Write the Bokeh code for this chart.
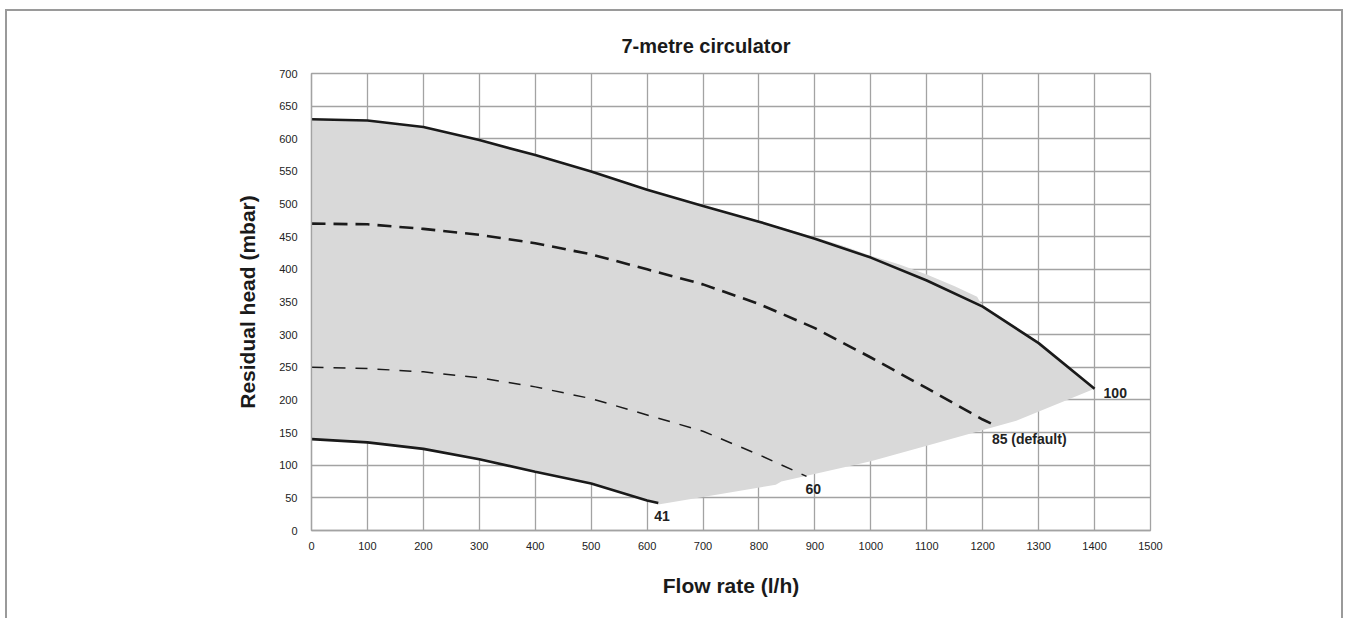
from bokeh.plotting import figure
from bokeh.models import Range1d, FixedTicker, Label, Title
from bokeh.embed import file_html
from bokeh.resources import INLINE

# ---- data ----
x_ticks = [0, 100, 200, 300, 400, 500, 600, 700, 800, 900, 1000, 1100, 1200, 1300, 1400, 1500]
y_ticks = [0, 50, 100, 150, 200, 250, 300, 350, 400, 450, 500, 550, 600, 650, 700]

flow_100 = [0, 100, 200, 300, 400, 500, 600, 700, 800, 900, 1000, 1100, 1200, 1300, 1400]
head_100 = [630, 628, 618, 598, 575, 550, 522, 497, 473, 447, 418, 383, 343, 287, 217]

flow_85 = [0, 100, 200, 300, 400, 500, 600, 700, 800, 900, 1000, 1100, 1200, 1220]
head_85 = [470, 469, 462, 453, 440, 423, 400, 377, 347, 310, 265, 218, 170, 162]

flow_60 = [0, 100, 200, 300, 400, 500, 600, 700, 800, 885]
head_60 = [250, 248, 243, 234, 220, 202, 177, 152, 116, 83]

flow_41 = [0, 100, 200, 300, 400, 500, 600, 620]
head_41 = [140, 135, 125, 109, 90, 72, 46, 42]

env_top_flow = [0, 100, 200, 300, 400, 500, 600, 700, 800, 850, 900, 950, 1000, 1050, 1100, 1150, 1190, 1200, 1300, 1400]
env_top_head = [631, 629, 619, 599, 576, 551, 523, 498, 474, 462, 449, 436, 421, 408, 392, 374, 358, 343, 287, 217]
env_bot_flow = [1400, 1260, 1100, 1000, 840, 830, 620, 600, 500, 400, 300, 200, 100, 0]
env_bot_head = [217, 168, 130, 106, 75, 70, 40, 46, 72, 90, 109, 125, 135, 140]

curve_names = ["100", "85 (default)", "60", "41"]

FONT = "Liberation Sans"
GRID = "#a3a3a3"
FRAME = "#9a9a9a"

p = figure(width=1346, height=618,
           x_range=Range1d(0, 1500), y_range=Range1d(0, 700),
           output_backend="svg", toolbar_location=None,
           min_border_left=311, min_border_right=196,
           min_border_top=73, min_border_bottom=88)

p.border_fill_alpha = 0
p.background_fill_color = "white"
p.outline_line_color = GRID
p.outline_line_width = 1.3
# outer picture frame (left, top, right edges)
p.styles = {
    "box-shadow": ("inset 5px 0 0 0 #ffffff, inset 0 9px 0 0 #ffffff, inset -3px 0 0 0 #ffffff, "
                   f"inset 7px 0 0 0 {FRAME}, inset 0 11px 0 0 {FRAME}, inset -5px 0 0 0 {FRAME}")
}

p.add_layout(Title(text="7-metre circulator", align="left", offset=310,
                   text_font=FONT, text_font_size="20px", text_font_style="bold",
                   text_color="#1a1a1a", standoff=33), "above")

# shaded operating envelope
p.patch(env_top_flow + env_bot_flow, env_top_head + env_bot_head,
        fill_color="#d9d9d9", line_color=None)

# curves
LC = "#1a1a1a"
p.line(flow_100, head_100, line_color=LC, line_width=2.6)
p.line(flow_85, head_85, line_color=LC, line_width=2.6, line_dash="14 8")
p.line(flow_60, head_60, line_color=LC, line_width=1.5, line_dash="12 10")
p.line(flow_41, head_41, line_color=LC, line_width=2.6)

ends = [(flow_100[-1], head_100[-1], 9, -4),
        (flow_85[-1], head_85[-1], -2, -14),
        (flow_60[-1], head_60[-1], -1, -13),
        (flow_41[-1], head_41[-1], -4, -13)]
for name, (fx, fy, dx, dy) in zip(curve_names, ends):
    p.add_layout(Label(x=fx, y=fy, text=name, x_offset=dx, y_offset=dy,
                       text_align="left", text_baseline="middle",
                       text_font=FONT, text_font_size="14px",
                       text_font_style="bold", text_color="#222222"))

# axes
for ax in (p.xaxis[0], p.yaxis[0]):
    ax.axis_line_color = GRID
    ax.axis_line_width = 1.3
    ax.major_tick_line_color = None
    ax.minor_tick_line_color = None
    ax.major_label_text_font = FONT
    ax.major_label_text_font_size = "11px"
    ax.major_label_text_color = "#222222"
    ax.axis_label_text_font = FONT
    ax.axis_label_text_font_size = "21px"
    ax.axis_label_text_font_style = "bold"
    ax.axis_label_text_color = "#1a1a1a"

p.xaxis.ticker = FixedTicker(ticks=x_ticks)
p.yaxis.ticker = FixedTicker(ticks=y_ticks)
p.xaxis.axis_label = "Flow rate (l/h)"
p.yaxis.axis_label = "Residual head (mbar)"
p.xaxis.major_label_standoff = 5
p.yaxis.major_label_standoff = 8
p.xaxis.axis_label_standoff = 21
p.yaxis.axis_label_standoff = 17

p.xgrid.ticker = FixedTicker(ticks=x_ticks)
p.ygrid.ticker = FixedTicker(ticks=y_ticks)
p.grid.grid_line_color = GRID
p.grid.grid_line_width = 1.3

open("out.html", "w").write(file_html(p, INLINE))
